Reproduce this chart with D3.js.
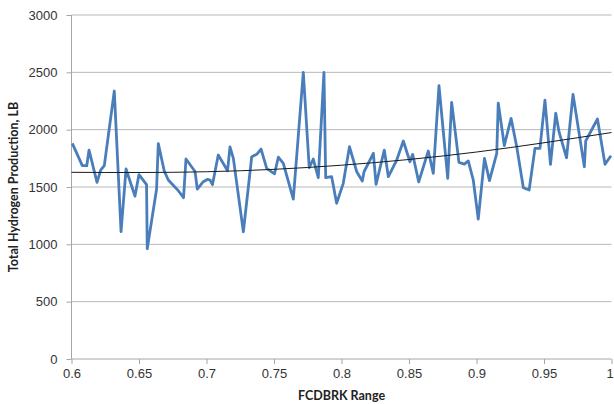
<!DOCTYPE html>
<html>
<head>
<meta charset="utf-8">
<script src="https://cdn.jsdelivr.net/npm/d3@7"></script>
<style>
  body { margin: 0; background: #fff; }
  svg { display: block; font-family: Lato, "Open Sans", sans-serif; }
  .grid line { stroke: #b8b8b8; stroke-width: 1; }
  .axis path, .axis line { stroke: #a6a6a6; }
  .axis text { fill: #333; font-size: 13px; }
  .title { font-size: 12.5px; font-weight: bold; fill: #222; }
</style>
</head>
<body>
<svg id="chart" width="614" height="404"></svg>
<script>
var xValues = [
  0.6006, 0.6080, 0.6113, 0.6130, 0.6189, 0.6216, 0.6243, 0.6317, 0.6367, 0.6404,
  0.6470, 0.6500, 0.6556, 0.6561, 0.6630, 0.6643, 0.6687, 0.6717, 0.6787, 0.6830,
  0.6848, 0.6915, 0.6932, 0.6976, 0.7009, 0.7026, 0.7044, 0.7087, 0.7156, 0.7174,
  0.7199, 0.7273, 0.7335, 0.7372, 0.7404, 0.7446, 0.7504, 0.7532, 0.7569, 0.7643,
  0.7717, 0.7761, 0.7791, 0.7828, 0.7870, 0.7883, 0.7927, 0.7964, 0.8013, 0.8059,
  0.8113, 0.8154, 0.8167, 0.8236, 0.8256, 0.8317, 0.8347, 0.8409, 0.8458, 0.8507,
  0.8527, 0.8572, 0.8643, 0.8680, 0.8722, 0.8787, 0.8816, 0.8870, 0.8910, 0.8939,
  0.8976, 0.9013, 0.9059, 0.9096, 0.9150, 0.9161, 0.9206, 0.9256, 0.9298, 0.9347,
  0.9390, 0.9433, 0.9470, 0.9507, 0.9548, 0.9587, 0.9611, 0.9667, 0.9715, 0.9799,
  0.9809, 0.9896, 0.9952, 0.9996
];

var hydrogen = [
  1881, 1686, 1686, 1822, 1541, 1648, 1686, 2337, 1110, 1657,
  1420, 1608, 1520, 962, 1480, 1878, 1640, 1561, 1474, 1407,
  1744, 1635, 1482, 1546, 1567, 1561, 1520, 1779, 1642, 1849,
  1750, 1110, 1764, 1785, 1831, 1663, 1615, 1760, 1706, 1395,
  2500, 1668, 1744, 1581, 2500, 1581, 1590, 1358, 1532, 1851,
  1633, 1552, 1633, 1794, 1523, 1822, 1590, 1735, 1901, 1720,
  1785, 1545, 1814, 1619, 2383, 1576, 2238, 1715, 1700, 1727,
  1561, 1221, 1750, 1556, 1794, 2232, 1862, 2099, 1851, 1494,
  1474, 1837, 1837, 2258, 1698, 2143, 1982, 1755, 2308, 1677,
  1901, 2093, 1698, 1773
];

// trendline (poly, order 2)
var trendX = [0.6, 0.7, 0.8, 0.9, 1.0];
var trendValues = [1628, 1633, 1690, 1805, 1975];

var xTicks = [0.6, 0.65, 0.7, 0.75, 0.8, 0.85, 0.9, 0.95, 1];
var yTicks = [0, 500, 1000, 1500, 2000, 2500, 3000];

var margin = {top: 15, right: 2.5, bottom: 45, left: 71.5};
var svg = d3.select('#chart');
var width = +svg.attr('width') - margin.left - margin.right;
var height = +svg.attr('height') - margin.top - margin.bottom;

var x = d3.scaleLinear().domain([0.6, 1]).range([0, width]);
var y = d3.scaleLinear().domain([0, 3000]).range([height, 0]);

var g = svg.append('g')
  .attr('transform', 'translate(' + margin.left + ',' + margin.top + ')');

// horizontal gridlines
g.append('g')
  .attr('class', 'grid')
  .selectAll('line')
  .data(yTicks.filter(function(d) { return d > 0; }))
  .enter().append('line')
  .attr('x1', 0)
  .attr('x2', width)
  .attr('y1', function(d) { return y(d); })
  .attr('y2', function(d) { return y(d); });

var yAxis = g.append('g')
  .attr('class', 'axis')
  .call(d3.axisLeft(y).tickValues(yTicks).tickSize(5).tickPadding(9)
    .tickFormat(d3.format('d')));
yAxis.select('.domain').attr('d', 'M0,0V' + height);

var xAxis = g.append('g')
  .attr('class', 'axis')
  .attr('transform', 'translate(0,' + height + ')')
  .call(d3.axisBottom(x).tickValues(xTicks).tickSize(5).tickPadding(5)
    .tickFormat(function(d) { return d === 1 ? '1' : d3.format('.2~f')(d); }));
xAxis.select('.domain').attr('d', 'M0,0H' + width);
xAxis.selectAll('.tick text')
  .filter(function(d) { return d === 1; })
  .attr('dx', -2);

// series
var points = xValues.map(function(d, i) { return [d, hydrogen[i]]; });

g.append('path')
  .datum(points)
  .attr('fill', 'none')
  .attr('stroke', '#4a7ebb')
  .attr('stroke-width', 2.8)
  .attr('stroke-linejoin', 'round')
  .attr('d', d3.line()
    .x(function(d) { return x(d[0]); })
    .y(function(d) { return y(d[1]); }));

// trendline
var trendPts = trendX.map(function(d, i) { return [d, trendValues[i]]; });

g.append('path')
  .datum(trendPts)
  .attr('fill', 'none')
  .attr('stroke', '#1a1a1a')
  .attr('stroke-width', 1)
  .attr('d', d3.line()
    .curve(d3.curveNatural)
    .x(function(d) { return x(d[0]); })
    .y(function(d) { return y(d[1]); }));

// axis titles
svg.append('text')
  .attr('class', 'title')
  .attr('x', margin.left + width / 2)
  .attr('y', 400)
  .attr('text-anchor', 'middle')
  .text('FCDBRK Range');

svg.append('text')
  .attr('class', 'title')
  .attr('transform', 'translate(18,' + (margin.top + height / 2) + ') rotate(-90)')
  .attr('text-anchor', 'middle')
  .text('Total Hydrogen Production, LB');
</script>
</body>
</html>
